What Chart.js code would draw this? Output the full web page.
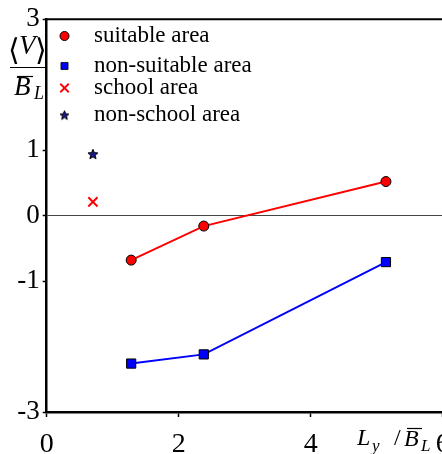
<!DOCTYPE html>
<html>
<head>
<meta charset="utf-8">
<script src="https://cdn.jsdelivr.net/npm/chart.js@4.4.1/dist/chart.umd.min.js"></script>
<style>
html, body { margin: 0; padding: 0; background: #fff; overflow: hidden; width: 442px; height: 454px; }
canvas { display: block; }
</style>
</head>
<body>
<canvas id="plotCanvas" width="480" height="454"></canvas>
<script>
// values
const xTicks = [0, 2, 4, 6];
const yTicks = [3, 1, 0, -1, -3];

const suitableX = [1.28, 2.38, 5.14];
const suitableY = [-0.68, -0.16, 0.52];

const nonSuitableX = [1.28, 2.38, 5.14];
const nonSuitableY = [-2.26, -2.12, -0.71];

const schoolX = [0.70];
const schoolY = [0.21];

const nonSchoolX = [0.70];
const nonSchoolY = [0.94];

const legendLabels = ['suitable area', 'non-suitable area', 'school area', 'non-school area'];

const SERIF = '"Liberation Serif", "Times New Roman", "DejaVu Serif", serif';

function pts(xs, ys) {
    return xs.map((x, i) => ({ x: x, y: ys[i] }));
}

// filled five point star used as point style
function makeStar(size) {
    const c = document.createElement('canvas');
    c.width = size; c.height = size;
    const g = c.getContext('2d');
    const cx = size / 2, cy = size / 2 + 0.5;
    const ro = size / 2 - 0.8, ri = ro * 0.45;
    g.beginPath();
    for (let i = 0; i < 10; i++) {
        const r = i % 2 === 0 ? ro : ri;
        const a = -Math.PI / 2 + i * Math.PI / 5;
        const px = cx + r * Math.cos(a), py = cy + r * Math.sin(a);
        if (i === 0) g.moveTo(px, py); else g.lineTo(px, py);
    }
    g.closePath();
    g.fillStyle = '#1a1a8a';
    g.fill();
    g.lineWidth = 1;
    g.strokeStyle = '#000';
    g.stroke();
    return c;
}

const starBig = makeStar(12);
const starSmall = makeStar(11);

// inline legend, top border and axis titles
const decorations = {
    id: 'decorations',
    afterDraw(chart) {
        const ctx = chart.ctx;
        const a = chart.chartArea;
        ctx.save();

        // top frame line
        ctx.strokeStyle = '#000';
        ctx.lineWidth = 2;
        ctx.beginPath();
        ctx.moveTo(a.left, a.top);
        ctx.lineTo(a.right, a.top);
        ctx.stroke();

        // legend
        const rows = [36, 66, 88, 115];
        const styles = [
            { pointStyle: 'circle', radius: 4.5, borderWidth: 1, fill: '#ff0000', stroke: '#000' },
            { pointStyle: 'rect', radius: 5, borderWidth: 0.8, fill: '#0000ff', stroke: '#000' },
            { pointStyle: 'crossRot', radius: 6, borderWidth: 1.8, fill: '#ff0000', stroke: '#ff0000' },
            { pointStyle: starSmall, radius: 5, borderWidth: 0, fill: '#000', stroke: '#000' }
        ];
        ctx.font = '23px ' + SERIF;
        ctx.textBaseline = 'middle';
        ctx.textAlign = 'left';
        legendLabels.forEach((t, i) => {
            const s = styles[i];
            ctx.fillStyle = s.fill;
            ctx.strokeStyle = s.stroke;
            ctx.lineWidth = s.borderWidth;
            Chart.helpers.drawPoint(ctx, { pointStyle: s.pointStyle, radius: s.radius, rotation: 0, borderWidth: s.borderWidth }, 64.5, rows[i]);
            ctx.fillStyle = '#000';
            ctx.fillText(t, 94, rows[i]);
        });

        // y title: <V> over B_L
        ctx.fillStyle = '#000';
        ctx.strokeStyle = '#000';
        ctx.textBaseline = 'alphabetic';
        ctx.font = '30px "DejaVu Serif", serif';
        ctx.fillText('\u27E8', 8, 60);
        ctx.fillText('\u27E9', 35, 60);
        ctx.font = 'italic 27px ' + SERIF;
        ctx.fillText('V', 19, 54);
        ctx.lineWidth = 1.2;
        ctx.beginPath();
        ctx.moveTo(10, 67.5);
        ctx.lineTo(45, 67.5);
        ctx.stroke();
        ctx.font = 'italic 27px ' + SERIF;
        ctx.fillText('B', 14, 95);
        ctx.beginPath();
        ctx.moveTo(17, 76.5);
        ctx.lineTo(33, 76.5);
        ctx.stroke();
        ctx.font = 'italic 18px ' + SERIF;
        ctx.fillText('L', 34, 99);

        // x title: L_y / B_L
        ctx.font = 'italic 24px ' + SERIF;
        ctx.fillText('L', 357, 445);
        ctx.font = 'italic 17px ' + SERIF;
        ctx.fillText('y', 372, 451);
        ctx.font = '24px ' + SERIF;
        ctx.fillText('/', 394, 445);
        ctx.font = 'italic 24px ' + SERIF;
        ctx.fillText('B', 404, 446);
        ctx.beginPath();
        ctx.moveTo(407, 428.5);
        ctx.lineTo(422, 428.5);
        ctx.stroke();
        ctx.font = 'italic 17px ' + SERIF;
        ctx.fillText('L', 421, 451);

        ctx.restore();
    }
};

const chart = new Chart(document.getElementById('plotCanvas'), {
    type: 'scatter',
    data: {
        datasets: [{
            label: legendLabels[0],
            data: pts(suitableX, suitableY),
            showLine: true,
            borderColor: '#ff0000',
            borderWidth: 2,
            pointStyle: 'circle',
            pointRadius: 5,
            pointBackgroundColor: '#ff0000',
            pointBorderColor: '#000',
            pointBorderWidth: 1
        }, {
            label: legendLabels[1],
            data: pts(nonSuitableX, nonSuitableY),
            showLine: true,
            borderColor: '#0000ff',
            borderWidth: 2,
            pointStyle: 'rect',
            pointRadius: 6.5,
            pointBackgroundColor: '#0000ff',
            pointBorderColor: '#000',
            pointBorderWidth: 1
        }, {
            label: legendLabels[2],
            data: pts(schoolX, schoolY),
            pointStyle: 'crossRot',
            pointRadius: 6.5,
            pointBorderColor: '#ff0000',
            pointBorderWidth: 2
        }, {
            label: legendLabels[3],
            data: pts(nonSchoolX, nonSchoolY),
            pointStyle: starBig,
            pointRadius: 6
        }]
    },
    options: {
        responsive: false,
        animation: false,
        events: [],
        layout: { padding: { top: 16, left: 0, right: 37.3, bottom: 0 } },
        plugins: {
            legend: { display: false },
            tooltip: { enabled: false }
        },
        scales: {
            x: {
                type: 'linear',
                min: 0,
                max: 6,
                afterBuildTicks: s => { s.ticks = xTicks.map(v => ({ value: v })); },
                afterFit: s => { s.height = 42; },
                border: { display: true, color: '#000', width: 2.5 },
                grid: { drawOnChartArea: false, drawTicks: true, tickLength: 5, tickColor: '#000', tickWidth: 1.5 },
                ticks: { color: '#000', font: { family: SERIF, size: 28 }, padding: 11, maxRotation: 0 }
            },
            y: {
                type: 'linear',
                min: -3,
                max: 3,
                afterBuildTicks: s => { s.ticks = yTicks.map(v => ({ value: v })); },
                afterFit: s => { s.width = 46.7; },
                border: { display: true, color: '#000', width: 2.5 },
                grid: {
                    color: c => (c.tick && c.tick.value === 0) ? '#444' : 'rgba(0,0,0,0)',
                    lineWidth: 1,
                    drawTicks: true,
                    tickLength: 4,
                    tickColor: '#000',
                    tickWidth: 1.5
                },
                ticks: { color: '#000', font: { family: SERIF, size: 27 }, padding: 3 }
            }
        }
    },
    plugins: [decorations]
});
</script>
</body>
</html>
